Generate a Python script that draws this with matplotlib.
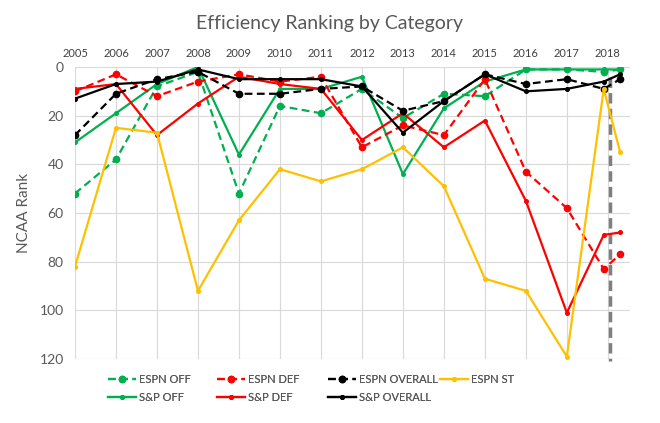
import matplotlib
matplotlib.use("Agg")
import matplotlib.pyplot as plt

# x positions: season years, then a late-2018 point and a final post-season point
years = [2005, 2006, 2007, 2008, 2009, 2010, 2011, 2012, 2013, 2014, 2015, 2016, 2017, 2017.9, 2018.3]
tick_years = list(range(2005, 2019))

espn_off = [52, 38, 8, 2, 52, 16, 19, 9, 21, 11, 12, 1, 1, 2, 1]
espn_def = [10, 3, 12, 6, 3, 6, 4, 33, 24, 28, 5, 43, 58, 83, 77]
espn_overall = [28, 11, 5, 2, 11, 11, 9, 8, 18, 14, 3, 7, 5, 9, 5]
espn_st = [82, 25, 27, 92, 63, 42, 47, 42, 33, 49, 87, 92, 119, 9, 35]
sp_off = [31, 19, 7, 0, 36, 9, 9, 4, 44, 17, 6, 1, 1, 1, 1]
sp_def = [9, 7, 28, 15, 4, 7, 9, 30, 19, 33, 22, 55, 101, 69, 68]
sp_overall = [13, 7, 6, 1, 5, 5, 5, 8, 27, 14, 3, 10, 9, 6, 3]

cutoff_x = 2018.05

GREEN = "#00B050"
RED = "#FF0000"
BLACK = "#000000"
GOLD = "#FFC000"

plt.rcParams['font.family'] = ['Lato', 'DejaVu Sans']

fig = plt.figure(figsize=(6.6, 4.23), dpi=100)
ax = fig.add_axes([0.1136, 0.1513, 0.8409, 0.6903])

big = dict(marker='o', markersize=4.5, linewidth=1.6)
small = dict(marker='o', markersize=2.6, linewidth=1.6)
dash = (0, (3.5, 2))

h_eoff, = ax.plot(years, espn_off, color=GREEN, linestyle=dash, label='ESPN OFF', **big)
h_soff, = ax.plot(years, sp_off, color=GREEN, linestyle='-', label='S&P OFF', **small)
h_edef, = ax.plot(years, espn_def, color=RED, linestyle=dash, label='ESPN DEF', **big)
h_sdef, = ax.plot(years, sp_def, color=RED, linestyle='-', label='S&P DEF', **small)
h_eov, = ax.plot(years, espn_overall, color=BLACK, linestyle=dash, label='ESPN OVERALL', **big)
h_sov, = ax.plot(years, sp_overall, color=BLACK, linestyle='-', label='S&P OVERALL', **small)
h_st, = ax.plot(years, espn_st, color=GOLD, linestyle='-', label='ESPN ST', **small)

# dashed separator after 2018
ax.plot([cutoff_x, cutoff_x], [4, 121], color='#7F7F7F', linestyle=(0, (3, 1.5)),
        linewidth=2.5, clip_on=False, zorder=1)

ax.set_xlim(2005, 2018.54)
ax.set_ylim(120, 0)
ax.set_yticks(range(0, 121, 20))
ax.set_xticks(tick_years)
ax.set_xticklabels([str(y) for y in tick_years])
ax.xaxis.tick_top()
ax.tick_params(axis='x', length=0, labelsize=8, colors='#404040', pad=6)
ax.tick_params(axis='y', length=0, labelsize=10, colors='#595959', pad=8)
ax.grid(True, color='#D9D9D9', linewidth=0.8)
ax.set_axisbelow(True)
for s in ax.spines.values():
    s.set_visible(False)

ax.set_ylabel('NCAA Rank', fontsize=11, color='#595959', labelpad=6)
fig.text(0.5, 0.945, 'Efficiency Ranking by Category', ha='center', va='center',
         fontsize=14, color='#595959')

# legend laid out in fixed-width columns like the original
columns = [[h_eoff, h_soff], [h_edef, h_sdef], [h_eov, h_sov], [h_st]]
col_x = [108, 217, 328, 440]
for hs, x in zip(columns, col_x):
    leg = fig.legend(handles=hs, loc='upper left', bbox_to_anchor=(x / 660, 1 - 374 / 423),
                     frameon=False, fontsize=8, labelcolor='#595959', handlelength=2.5,
                     handletextpad=0.3, labelspacing=0.6, borderaxespad=0, borderpad=0)
    fig.add_artist(leg)

fig.savefig('out.png', dpi=100)
